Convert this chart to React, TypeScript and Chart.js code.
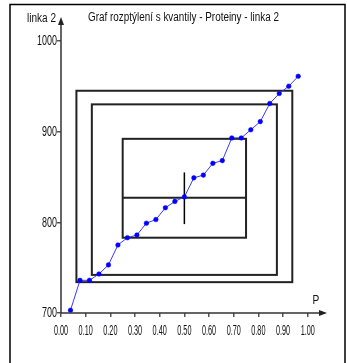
import React, { useEffect, useRef } from "react";
import { Chart, registerables } from "chart.js";

Chart.register(...registerables);

// Quantile plot data: P = i/(n+1), sorted values
const pValues = [
  0.0385, 0.0769, 0.1154, 0.1538, 0.1923, 0.2308, 0.2692, 0.3077, 0.3462, 0.3846,
  0.4231, 0.4615, 0.5, 0.5385, 0.5769, 0.6154, 0.6538, 0.6923, 0.7308, 0.7692,
  0.8077, 0.8462, 0.8846, 0.9231, 0.9615,
];
const proteinValues = [
  703, 736, 736, 743, 753, 775, 783, 786, 799, 803,
  816, 823, 828, 849, 852, 865, 868, 893, 893, 902,
  911, 931, 942, 950, 961,
];

// Quantile boxes (sedecile, octile, quartile)
const boxLowP = [0.0625, 0.125, 0.25];
const boxHighP = [0.9375, 0.875, 0.75];
const boxLowY = [734, 742, 783];
const boxHighY = [945, 930, 892];
const medianP = 0.5;
const medianY = 827;
const medianLow = 798;
const medianHigh = 855;

const xTickValues = [0, 0.1, 0.2, 0.3, 0.4, 0.5, 0.6, 0.7, 0.8, 0.9, 1.0];
const xTickLabels = ["0.00", "0.10", "0.20", "0.30", "0.40", "0.50", "0.60", "0.70", "0.80", "0.90", "1.00"];
const yTickValues = [700, 800, 900, 1000];
const yTickLabels = ["700", "800", "900", "1000"];

const titleText = "Graf rozptýlení s kvantily - Proteiny - linka 2";
const yAxisTitle = "linka 2";
const xAxisTitle = "P";

function sq(ctx: CanvasRenderingContext2D, text: string, x: number, y: number, sx: number, align: CanvasTextAlign, baseline: CanvasTextBaseline = "alphabetic") {
  ctx.save();
  ctx.translate(x, y);
  ctx.scale(sx, 1);
  ctx.textAlign = align;
  ctx.textBaseline = baseline;
  ctx.fillText(text, 0, 0);
  ctx.restore();
}

const overlayPlugin = {
  id: "overlay",
  beforeDatasetsDraw(chart: any) {
    const ctx: CanvasRenderingContext2D = chart.ctx;
    const xs = chart.scales.x;
    const ys = chart.scales.y;
    ctx.save();
    ctx.strokeStyle = "#222";
    ctx.lineWidth = 2;
    for (let i = 0; i < boxLowP.length; i++) {
      const x1 = xs.getPixelForValue(boxLowP[i]);
      const x2 = xs.getPixelForValue(boxHighP[i]);
      const y1 = ys.getPixelForValue(boxHighY[i]);
      const y2 = ys.getPixelForValue(boxLowY[i]);
      ctx.strokeRect(x1, y1, x2 - x1, y2 - y1);
    }
    // median line across quartile box
    ctx.beginPath();
    ctx.moveTo(xs.getPixelForValue(boxLowP[2]), ys.getPixelForValue(medianY));
    ctx.lineTo(xs.getPixelForValue(boxHighP[2]), ys.getPixelForValue(medianY));
    ctx.stroke();
    ctx.lineWidth = 1.5;
    ctx.strokeStyle = "#000";
    ctx.beginPath();
    ctx.moveTo(xs.getPixelForValue(medianP), ys.getPixelForValue(medianHigh));
    ctx.lineTo(xs.getPixelForValue(medianP), ys.getPixelForValue(medianLow));
    ctx.stroke();
    ctx.restore();
  },
  afterDraw(chart: any) {
    const ctx: CanvasRenderingContext2D = chart.ctx;
    const xs = chart.scales.x;
    const ys = chart.scales.y;
    const area = chart.chartArea;
    const left = xs.left;
    const right = xs.right;
    const top = ys.top;
    const bottom = ys.bottom;
    ctx.save();
    // axis lines and arrows
    ctx.strokeStyle = "#333";
    ctx.fillStyle = "#222";
    ctx.lineWidth = 1.5;
    ctx.beginPath();
    ctx.moveTo(left, bottom);
    ctx.lineTo(left, top);
    ctx.moveTo(left, bottom);
    ctx.lineTo(right, bottom);
    ctx.stroke();
    ctx.beginPath();
    ctx.moveTo(left, top - 3);
    ctx.lineTo(left - 3, top + 5);
    ctx.lineTo(left + 3, top + 5);
    ctx.closePath();
    ctx.fill();
    ctx.beginPath();
    ctx.moveTo(right + 2, bottom);
    ctx.lineTo(right - 6, bottom - 3);
    ctx.lineTo(right - 6, bottom + 3);
    ctx.closePath();
    ctx.fill();

    // text
    ctx.fillStyle = "#111";
    ctx.font = "14px 'Liberation Sans', Arial, sans-serif";
    for (let i = 0; i < xTickValues.length; i++) {
      sq(ctx, xTickLabels[i], xs.getPixelForValue(xTickValues[i]), 335, 0.52, "center");
    }
    for (let i = 0; i < yTickValues.length; i++) {
      sq(ctx, yTickLabels[i], area.left - 4, ys.getPixelForValue(yTickValues[i]) + 0.5, 0.64, "right", "middle");
    }
    ctx.font = "12px 'Liberation Sans', Arial, sans-serif";
    const tw = ctx.measureText(titleText).width;
    sq(ctx, titleText, 88, 21, 191 / tw, "left");
    const lw = ctx.measureText(yAxisTitle).width;
    sq(ctx, yAxisTitle, 27, 21.5, 29 / lw, "left");
    ctx.font = "13px 'Liberation Sans', Arial, sans-serif";
    sq(ctx, xAxisTitle, 312.5, 303.5, 0.78, "left");

    // frame
    ctx.strokeStyle = "#000";
    ctx.lineWidth = 1.5;
    ctx.beginPath();
    ctx.moveTo(10, 363);
    ctx.lineTo(10, 4.5);
    ctx.lineTo(345, 4.5);
    ctx.lineTo(345, 363);
    ctx.stroke();
    ctx.restore();
  },
};

export default function App() {
  const ref = useRef<HTMLCanvasElement | null>(null);
  useEffect(() => {
    if (!ref.current) return;
    const chart = new Chart(ref.current, {
      type: "scatter",
      data: {
        datasets: [
          {
            data: pValues.map((p, i) => ({ x: p, y: proteinValues[i] })),
            showLine: true,
            borderColor: "#3a3aff",
            borderWidth: 1,
            backgroundColor: "#0000ff",
            pointBackgroundColor: "#0000ff",
            pointBorderColor: "#0000ff",
            pointRadius: 2.3,
            pointBorderWidth: 0.5,
          },
        ],
      },
      options: {
        animation: false,
        responsive: false,
        events: [],
        layout: { padding: { top: 20, left: 0, right: 22, bottom: 0 } },
        plugins: { legend: { display: false }, tooltip: { enabled: false }, title: { display: false } },
        scales: {
          x: {
            type: "linear",
            min: 0,
            max: 1.07,
            afterBuildTicks: (s: any) => {
              s.ticks = xTickValues.map((v) => ({ value: v }));
            },
            afterFit: (s: any) => {
              s.height = 50;
            },
            ticks: { display: false },
            grid: { display: true, drawOnChartArea: false, drawTicks: true, tickLength: 4, color: "#555", lineWidth: 1.5 },
            border: { display: false },
          },
          y: {
            type: "linear",
            min: 700,
            max: 1023,
            afterBuildTicks: (s: any) => {
              s.ticks = yTickValues.map((v) => ({ value: v }));
            },
            afterFit: (s: any) => {
              s.width = 61;
            },
            ticks: { display: false },
            grid: { display: true, drawOnChartArea: false, drawTicks: true, tickLength: 4, color: "#555", lineWidth: 1.5 },
            border: { display: false },
          },
        },
      },
      plugins: [overlayPlugin],
    });
    return () => chart.destroy();
  }, []);
  return (
    <div style={{ position: "absolute", left: 0, top: 0, width: 347, height: 363, background: "#fff" }}>
      <canvas ref={ref} width={347} height={363} style={{ display: "block" }} />
    </div>
  );
}
